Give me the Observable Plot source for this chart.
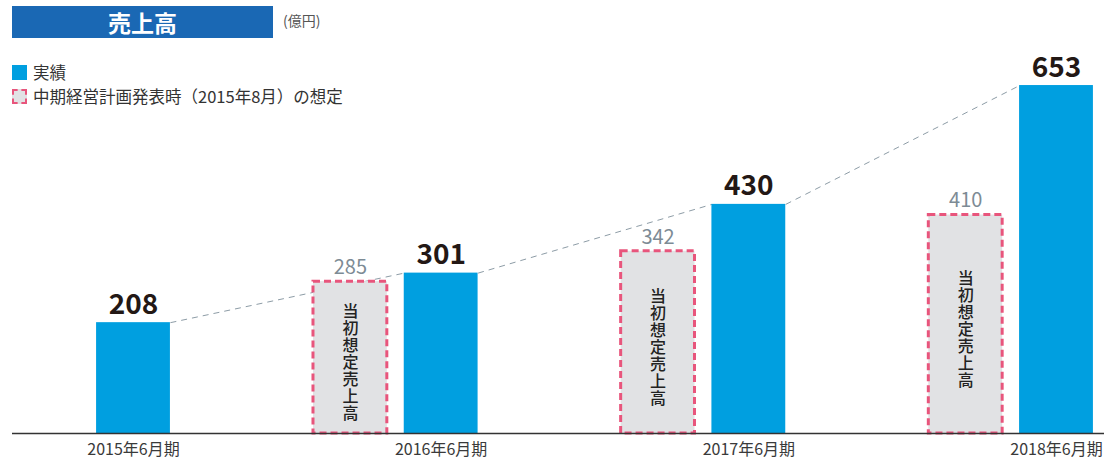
<!DOCTYPE html>
<html>
<head>
<meta charset="utf-8">
<script src="https://cdn.jsdelivr.net/npm/d3@7"></script>
<script src="https://cdn.jsdelivr.net/npm/@observablehq/plot@0.6"></script>
<style>
  html, body { margin: 0; padding: 0; background: #fff; }
  body { font-family: "Noto Sans CJK JP", "Noto Sans", sans-serif; }
  #wrap { position: relative; width: 1104px; height: 461px; overflow: hidden; }
  #chart { position: absolute; left: 0; top: 0; }
  .title { position: absolute; left: 12px; top: 6px; width: 261px; height: 32px; background: #1a68b4;
           color: #fff; font-size: 23px; font-weight: 700; line-height: 32px; text-align: center; }
  .unit { position: absolute; left: 283px; top: 11px; font-size: 14px; color: #555; line-height: 18px; }
  .legend { position: absolute; left: 12px; top: 60px; font-size: 16.5px; color: #333; }
  .row { display: flex; align-items: center; height: 24px; }
  .sw { width: 15px; height: 15px; margin-right: 6px; box-sizing: border-box; }
  .sw.actual { background: #009fe0; }
  .sw.plan { background: #e1e2e4; border: 2px dashed #e8557c; }
</style>
</head>
<body>
<div id="wrap">
  <div id="chart"></div>
  <div class="title">売上高</div>
  <div class="unit">(億円)</div>
  <div class="legend">
    <div class="row"><div class="sw actual"></div><span>実績</span></div>
    <div class="row"><div class="sw plan"></div><span>中期経営計画発表時（2015年8月）の想定</span></div>
  </div>
</div>
<script>
const periods = ["2015年6月期", "2016年6月期", "2017年6月期", "2018年6月期"];
const actual = [208, 301, 430, 653];
const plan = [null, 285, 342, 410];
const planNote = "当初想定売上高";

const HALF = 0.12;        // bar half width (index units)
const PLAN_SHIFT = 0.295; // plan bar offset to the left (index units)

const actualData = periods.map((p, i) => ({i, period: p, value: actual[i]}));
const planData = periods.map((p, i) => ({i, period: p, value: plan[i]})).filter(d => d.value != null);
const links = actualData.slice(1).map((d, k) => ({from: actualData[k], to: d}));

const chart = Plot.plot({
  width: 1104,
  height: 461,
  marginLeft: 12,
  marginRight: 0,
  marginTop: 0,
  marginBottom: 28,
  style: {fontFamily: "'Noto Sans CJK JP', 'Noto Sans', sans-serif", background: "transparent"},
  x: {type: "linear", domain: [0, 3], range: [133, 1056], axis: null},
  y: {domain: [0, 700], range: [433, 60], axis: null},
  marks: [
    Plot.link(links, {
      x1: d => d.from.i + HALF, y1: d => d.from.value,
      x2: d => d.to.i - HALF, y2: d => d.to.value,
      stroke: "#8d9ca6", strokeWidth: 1, strokeDasharray: "6,5"
    }),
    Plot.rect(planData, {
      x1: d => d.i - PLAN_SHIFT - HALF, x2: d => d.i - PLAN_SHIFT + HALF,
      y1: 0, y2: "value",
      fill: "#e1e2e4", stroke: "#e8557c", strokeWidth: 3, strokeDasharray: "7,4"
    }),
    Plot.rect(actualData, {
      x1: d => d.i - HALF, x2: d => d.i + HALF,
      y1: 0, y2: "value", fill: "#009fe0"
    }),
    Plot.ruleY([0], {stroke: "#333", strokeWidth: 1.5}),
    Plot.text(actualData, {
      x: "i", y: "value", text: d => String(d.value), dy: -18,
      fontSize: 28, fontWeight: "bold", fill: "#231815"
    }),
    Plot.text(planData, {
      x: d => d.i - PLAN_SHIFT, y: "value", text: d => String(d.value), dy: -14,
      fontSize: 20, fill: "#7d8b95"
    }),
    Plot.text(planData, {
      x: d => d.i - PLAN_SHIFT, y: d => d.value / 2,
      text: () => planNote,
      fontSize: 16, fontWeight: 500, fill: "#222"
    }),
    Plot.axisX({
      ticks: [0, 1, 2, 3], tickFormat: i => periods[i], tickSize: 0, tickPadding: 10,
      fontSize: 16, color: "#3a3a3a", label: null
    })
  ]
});
// set the in-bar note in vertical (top-to-bottom) writing
d3.select(chart).selectAll("text")
  .filter(function () { return this.textContent === planNote; })
  .attr("dy", null)
  .style("writing-mode", "vertical-rl")
  .style("text-orientation", "upright")
  .style("letter-spacing", "1px");
document.getElementById("chart").appendChild(chart);
</script>
</body>
</html>
